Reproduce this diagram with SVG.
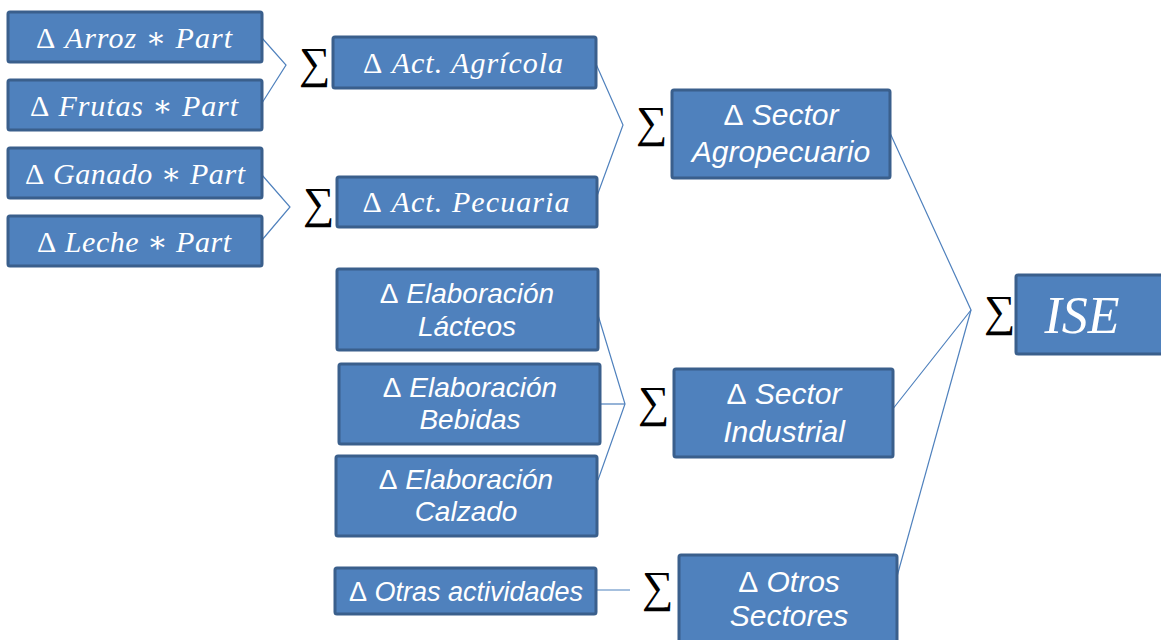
<svg xmlns="http://www.w3.org/2000/svg" width="1161" height="640" viewBox="0 0 1161 640">
<style>
.box{fill:#4F81BD;stroke:#3A5F8C;stroke-width:3}
.m{font-family:"Liberation Serif","DejaVu Serif",serif;font-style:italic;font-size:30px;fill:#fff;text-anchor:middle}
.s{font-family:"Liberation Sans",Arial,sans-serif;font-style:italic;font-size:28px;fill:#fff;text-anchor:middle}
.big{font-size:30px}
.up{font-style:normal}
.sig{font-family:"Liberation Serif","DejaVu Serif",serif;font-size:44px;fill:#000}
.con{fill:none;stroke:#4F81BD;stroke-width:1.2}
</style>
<rect width="1161" height="640" fill="#fff"/>
<g id="connectors">
<polyline class="con" points="262,38 286,65 262,103"/>
<polyline class="con" points="262,175 290,207 262,240"/>
<polyline class="con" points="596,64 623,125 597,196"/>
<polyline class="con" points="598,315 625,404 598,480"/>
<line class="con" x1="600" y1="404" x2="625" y2="404"/>
<line class="con" x1="596" y1="590" x2="630" y2="590"/>
<polyline class="con" points="890,133 971,310 892,410"/>
<line class="con" x1="971" y1="310" x2="896" y2="580"/>
</g>
<g id="sigmas">
<text class="sig" x="299" y="78">∑</text>
<text class="sig" x="303" y="218">∑</text>
<text class="sig" x="636" y="137">∑</text>
<text class="sig" x="638" y="417">∑</text>
<text class="sig" x="642" y="602">∑</text>
<text class="sig" x="984" y="326">∑</text>
</g>
<g id="n-arroz"><rect class="box" x="8" y="12" width="254" height="50" rx="2"/><text class="m" x="134" y="48" textLength="196" lengthAdjust="spacing"><tspan class="up">Δ</tspan> Arroz ∗ Part</text></g>
<g id="n-frutas"><rect class="box" x="8" y="80" width="254" height="50" rx="2"/><text class="m" x="134" y="116" textLength="208" lengthAdjust="spacing"><tspan class="up">Δ</tspan> Frutas ∗ Part</text></g>
<g id="n-ganado"><rect class="box" x="8" y="148" width="254" height="50" rx="2"/><text class="m" x="135" y="184" textLength="220" lengthAdjust="spacing"><tspan class="up">Δ</tspan> Ganado ∗ Part</text></g>
<g id="n-leche"><rect class="box" x="8" y="216" width="254" height="50" rx="2"/><text class="m" x="134" y="252" textLength="194" lengthAdjust="spacing"><tspan class="up">Δ</tspan> Leche ∗ Part</text></g>
<g id="n-agricola"><rect class="box" x="333" y="37" width="263" height="51" rx="2"/><text class="m" x="463" y="73" textLength="200" lengthAdjust="spacing"><tspan class="up">Δ</tspan> Act. Agrícola</text></g>
<g id="n-pecuaria"><rect class="box" x="337" y="177" width="260" height="50" rx="2"/><text class="m" x="466" y="212" textLength="207" lengthAdjust="spacing"><tspan class="up">Δ</tspan> Act. Pecuaria</text></g>
<g id="n-agro"><rect class="box" x="672" y="90" width="218" height="88" rx="2"/><text class="s big" x="781" y="125"><tspan class="up">Δ</tspan> Sector</text><text class="s big" x="781" y="162">Agropecuario</text></g>
<g id="n-lacteos"><rect class="box" x="337" y="269" width="261" height="81" rx="2"/><text class="s" x="467" y="303"><tspan class="up">Δ</tspan>  Elaboración</text><text class="s" x="467" y="336">Lácteos</text></g>
<g id="n-bebidas"><rect class="box" x="339" y="364" width="261" height="80" rx="2"/><text class="s" x="470" y="397"><tspan class="up">Δ</tspan> Elaboración</text><text class="s" x="470" y="429">Bebidas</text></g>
<g id="n-calzado"><rect class="box" x="336" y="456" width="261" height="80" rx="2"/><text class="s" x="466" y="489"><tspan class="up">Δ</tspan> Elaboración</text><text class="s" x="466" y="521">Calzado</text></g>
<g id="n-industrial"><rect class="box" x="674" y="369" width="219" height="88" rx="2"/><text class="s big" x="784" y="404"><tspan class="up">Δ</tspan> Sector</text><text class="s big" x="784" y="442">Industrial</text></g>
<g id="n-ise"><rect class="box" x="1016" y="275" width="150" height="79" rx="2"/><text class="m" x="1082" y="333" style="font-size:52px">ISE</text></g>
<g id="n-otras"><rect class="box" x="335" y="568" width="261" height="46" rx="2"/><text class="s" x="466" y="601" style="font-size:27px"><tspan class="up">Δ</tspan> Otras actividades</text></g>
<g id="n-otros"><rect class="box" x="679" y="555" width="218" height="95" rx="2"/><text class="s big" x="789" y="592"><tspan class="up">Δ</tspan> Otros</text><text class="s big" x="789" y="626">Sectores</text></g>
</svg>
